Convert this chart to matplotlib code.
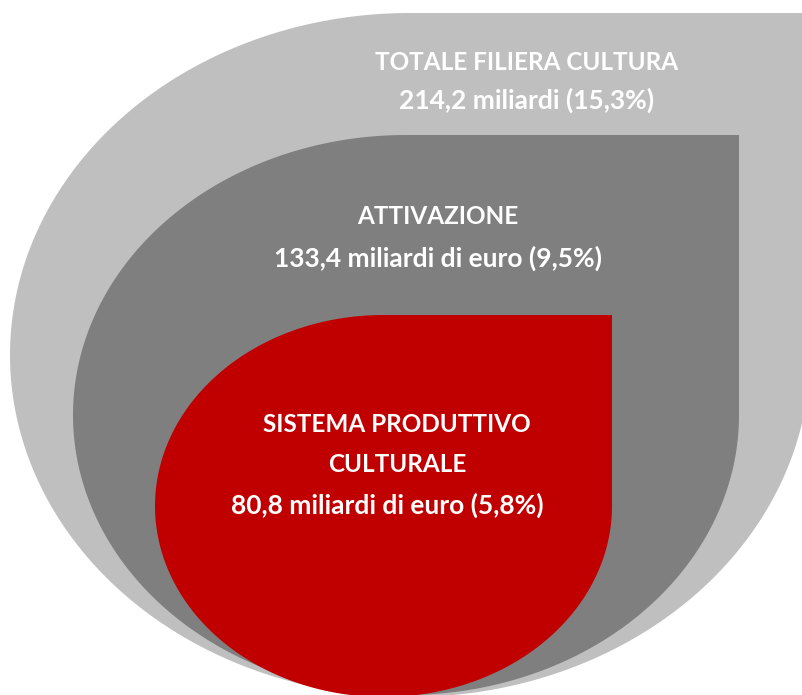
import numpy as np
import matplotlib
matplotlib.use('Agg')
import matplotlib.pyplot as plt
from matplotlib.path import Path
from matplotlib.patches import PathPatch

# data
names = ["TOTALE FILIERA CULTURA", "ATTIVAZIONE", "SISTEMA PRODUTTIVO\nCULTURALE"]
values = [214.2, 133.4, 80.8]
shares = [15.3, 9.5, 5.8]
units = ["miliardi", "miliardi di euro", "miliardi di euro"]

colors = ['#BFBFBF', '#7F7F7F', '#C00000']
# teardrop boxes (left, right, top, bottom) in pixels
boxes = [(10, 810, 13, 697), (73, 739, 135, 695), (155, 612, 315, 697)]
# label layout: name center x, first name line y, value line x, value line y
name_xy = [(527, 63), (438, 217), (397, 425)]
value_xy = [(527, 100), (438, 258), (387, 505)]

W, H = 802, 695


def teardrop(l, r, t, b, n=120):
    """PowerPoint-like teardrop: ellipse with a square top-right corner"""
    hc, vc = (l + r) / 2, (t + b) / 2
    rx, ry = (r - l) / 2, (b - t) / 2
    # top-left quadrant, from left to top
    a1 = np.linspace(np.pi, np.pi / 2, n)
    pts = [(hc + rx * np.cos(a), vc - ry * np.sin(a)) for a in a1]
    pts += [(r, t), (r, vc)]
    # bottom-right then bottom-left quadrants
    a2 = np.linspace(0, -np.pi, 2 * n)
    pts += [(hc + rx * np.cos(a), vc - ry * np.sin(a)) for a in a2]
    pts.append(pts[0])
    codes = [Path.MOVETO] + [Path.LINETO] * (len(pts) - 2) + [Path.CLOSEPOLY]
    return Path(pts, codes)


def fmt(v):
    return f"{v:.1f}".replace('.', ',')


fig = plt.figure(figsize=(W / 100, H / 100), dpi=100)
ax = fig.add_axes([0, 0, 1, 1])
ax.set_xlim(0, W)
ax.set_ylim(H, 0)
ax.axis('off')

for box, c in zip(boxes, colors):
    ax.add_patch(PathPatch(teardrop(*box), facecolor=c, edgecolor='none'))

font = dict(family='Lato', fontweight='bold', color='white', ha='center', va='center')
for name, v, s, u, (nx, ny), (vx, vy) in zip(names, values, shares, units, name_xy, value_xy):
    for i, line in enumerate(name.split('\n')):
        ax.text(nx, ny + i * 39, line, fontsize=17.5, **font)
    ax.text(vx, vy, f"{fmt(v)} {u} ({fmt(s)}%)", fontsize=19, **font)

fig.savefig('out.png', dpi=100)
